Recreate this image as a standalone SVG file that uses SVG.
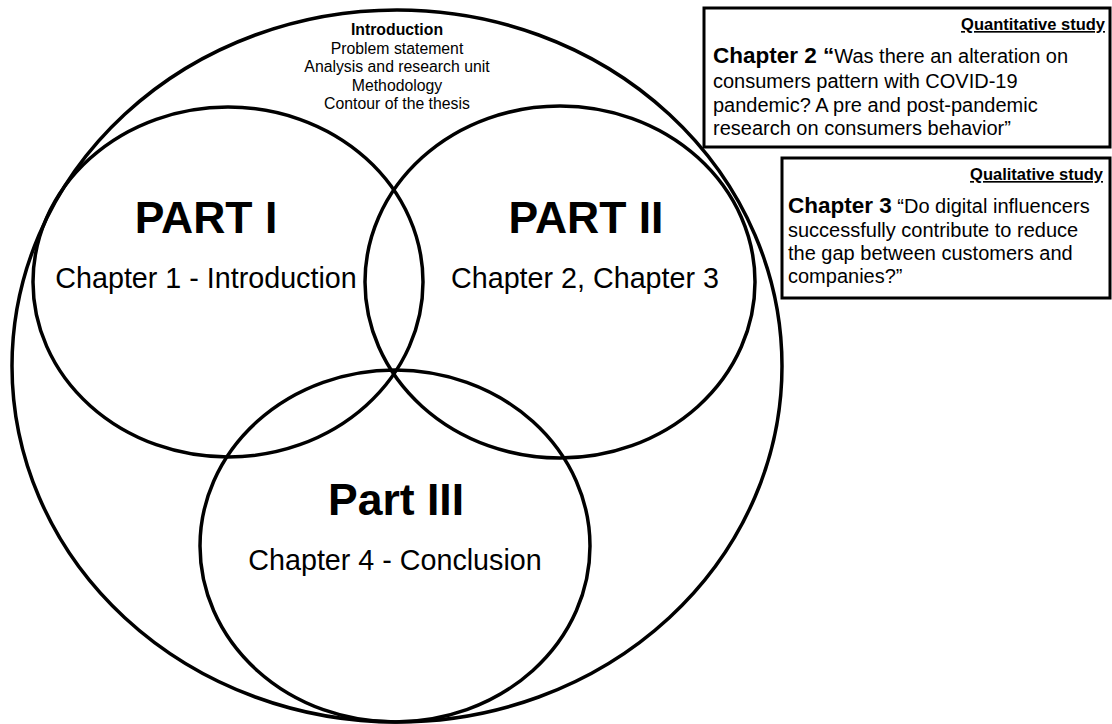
<svg xmlns="http://www.w3.org/2000/svg" width="1112" height="724" viewBox="0 0 1112 724">
<style>
.c{fill:none;stroke:#000;stroke-width:3.5}
.b{fill:#fff;stroke:#000;stroke-width:3}
.t{font-family:"Liberation Sans",Arial,sans-serif;fill:#000}
.big{font-size:44.5px;font-weight:bold;text-anchor:middle}
.ch{font-size:28.7px;text-anchor:middle}
.intro{font-size:15.8px;text-anchor:middle}
.q{font-size:20px}
.lb{font-size:22.5px;font-weight:bold}
.hd{font-size:16.5px;font-weight:bold;text-anchor:end;text-decoration:underline}
</style>
<rect width="1112" height="724" fill="#fff"/>
<g id="outer">
<ellipse class="c" cx="397" cy="366" rx="385" ry="356"/>
<text class="t intro" x="397" y="35" font-weight="bold">Introduction</text>
<text class="t intro" x="397" y="54">Problem statement</text>
<text class="t intro" x="397" y="72">Analysis and research unit</text>
<text class="t intro" x="397" y="91">Methodology</text>
<text class="t intro" x="397" y="109">Contour of the thesis</text>
</g>
<g id="part1">
<ellipse class="c" cx="228" cy="282" rx="195" ry="175"/>
<text class="t big" x="206" y="233">PART I</text>
<text class="t ch" x="206" y="288">Chapter 1 - Introduction</text>
</g>
<g id="part2">
<ellipse class="c" cx="560" cy="282" rx="195" ry="176"/>
<text class="t big" x="586" y="233">PART II</text>
<text class="t ch" x="585" y="288">Chapter 2, Chapter 3</text>
</g>
<g id="part3">
<ellipse class="c" cx="395" cy="546" rx="195" ry="176"/>
<text class="t big" x="396" y="515">Part III</text>
<text class="t ch" x="395" y="570">Chapter 4 - Conclusion</text>
</g>
<g id="box-quant">
<rect class="b" x="704" y="8" width="406" height="139"/>
<text class="t hd" x="1105" y="30">Quantitative study</text>
<text class="t q" x="713" y="63"><tspan class="lb">Chapter 2 “</tspan>Was there an alteration on</text>
<text class="t q" x="713" y="88">consumers pattern with COVID-19</text>
<text class="t q" x="713" y="112">pandemic? A pre and post-pandemic</text>
<text class="t q" x="713" y="135">research on consumers behavior”</text>
</g>
<g id="box-qual">
<rect class="b" x="782" y="158" width="328" height="140"/>
<text class="t hd" x="1103" y="180">Qualitative study</text>
<text class="t q" x="788" y="213"><tspan class="lb">Chapter 3</tspan> “Do digital influencers</text>
<text class="t q" x="788" y="237">successfully contribute to reduce</text>
<text class="t q" x="788" y="260">the gap between customers and</text>
<text class="t q" x="788" y="283">companies?”</text>
</g>
<g id="connectors"></g>
</svg>
